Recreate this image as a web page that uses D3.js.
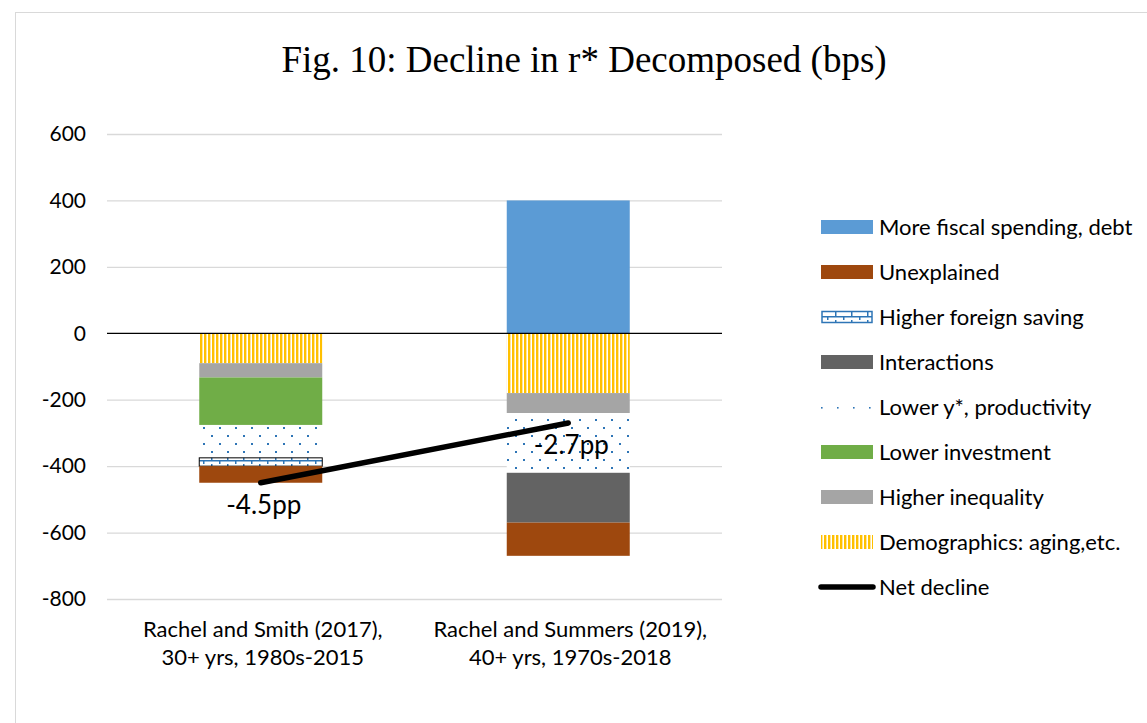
<!DOCTYPE html>
<html><head><meta charset="utf-8">
<script src="https://cdn.jsdelivr.net/npm/d3@7"></script>
<style>body{margin:0;background:#fff}</style>
</head><body>
<svg id="c" width="1147" height="723"></svg>
<script>
const categories = [["Rachel and Smith (2017),", "30+ yrs, 1980s-2015"], ["Rachel and Summers (2019),", "40+ yrs, 1970s-2018"]];
const seriesNames = ["Demographics: aging,etc.", "Higher inequality", "Lower investment", "Lower y*, productivity", "Interactions", "Higher foreign saving", "Unexplained", "More fiscal spending, debt"];
const demographics = [-90, -180];
const inequality = [-43, -60];
const investment = [-143, 0];
const lowerY = [-99, -180];
const interactions = [0, -150];
const foreignSaving = [-25, 0];
const unexplained = [-50, -100];
const fiscal = [0, 400];
const netDecline = [-450, -270];
const netLabels = ["-4.5pp", "-2.7pp"];
const yTicks = [600, 400, 200, 0, -200, -400, -600, -800];

const seriesValues = [demographics, inequality, investment, lowerY, interactions, foreignSaving, unexplained, fiscal];
const fills = ["url(#stripes)", "#A5A5A5", "#70AD47", "url(#dots)", "#636363", "url(#bricks)", "#9E480E", "#5B9BD5"];

const svg = d3.select("#c");
const font = "Lato, 'Open Sans', sans-serif";

// defs
const defs = svg.append("defs");
const ps = defs.append("pattern").attr("id","stripes").attr("patternUnits","userSpaceOnUse").attr("width",4).attr("height",4);
ps.append("rect").attr("width",4).attr("height",4).attr("fill","#fff");
ps.append("rect").attr("width",2.4).attr("height",4).attr("fill","#FFC000");
const pd = defs.append("pattern").attr("id","dots").attr("patternUnits","userSpaceOnUse").attr("width",16).attr("height",16);
pd.append("rect").attr("width",16).attr("height",16).attr("fill","#fff");
pd.append("rect").attr("x",3).attr("y",3).attr("width",2).attr("height",2).attr("fill","#2E75B6");
pd.append("rect").attr("x",11).attr("y",11).attr("width",2).attr("height",2).attr("fill","#2E75B6");
const pb = defs.append("pattern").attr("id","bricks").attr("patternUnits","userSpaceOnUse").attr("width",16).attr("height",8);
pb.append("rect").attr("width",16).attr("height",8).attr("fill","#fff");
pb.append("rect").attr("x",0).attr("y",4).attr("width",16).attr("height",1.5).attr("fill","#2E75B6");
pb.append("rect").attr("x",3).attr("y",0).attr("width",1.5).attr("height",4).attr("fill","#2E75B6");
pb.append("rect").attr("x",11).attr("y",4).attr("width",1.5).attr("height",4).attr("fill","#2E75B6");

// outer border
svg.append("rect").attr("x",15.5).attr("y",12.5).attr("width",1140).attr("height",720).attr("fill","#fff").attr("stroke","#d9d9d9");

svg.append("text").attr("x",584).attr("y",72).attr("text-anchor","middle")
  .attr("font-family","'Liberation Serif', 'Times New Roman', serif").attr("font-size",37).text("Fig. 10: Decline in r* Decomposed (bps)");

const x = d3.scaleBand().domain(d3.range(categories.length)).range([107, 722]).paddingInner(0.6).paddingOuter(0.3);
const y = d3.scaleLinear().domain([-800, 600]).range([599, 134]);

// grid
const yAxis = svg.append("g").attr("transform","translate(107,0)")
  .call(d3.axisLeft(y).tickValues(yTicks).tickSize(-615).tickPadding(21).tickFormat(d => String(d)));
yAxis.select(".domain").remove();
yAxis.selectAll(".tick line").attr("stroke", d => d === 0 ? "none" : "#d9d9d9").attr("stroke-width",1.3);
yAxis.selectAll(".tick text").attr("font-family",font).attr("font-size",21).attr("fill","#000");

// stacked data
const rows = categories.map((c,i) => { const o = {}; seriesNames.forEach((s,k)=> o[s] = seriesValues[k][i]); return o; });
const stack = d3.stack().keys(seriesNames).offset(d3.stackOffsetDiverging)(rows);
stack.forEach((layer,k) => {
  svg.append("g").selectAll("rect").data(layer).join("rect")
    .attr("x",(d,i)=>x(i)).attr("width",x.bandwidth())
    .attr("y",d=>y(Math.max(d[0],d[1]))).attr("height",d=>Math.abs(y(d[0])-y(d[1])))
    .attr("fill",fills[k])
    .attr("stroke", seriesNames[k]==="Higher foreign saving" ? "#000" : "none")
    .attr("stroke-width",1);
});

// zero line
svg.append("line").attr("x1",107).attr("x2",722).attr("y1",y(0)).attr("y2",y(0)).attr("stroke","#000").attr("stroke-width",1.3);

// net decline line
const cx = i => x(i) + x.bandwidth()/2;
svg.append("path").datum(netDecline)
  .attr("d", d3.line().x((d,i)=>cx(i)).y(d=>y(d)))
  .attr("fill","none").attr("stroke","#000").attr("stroke-width",5.5).attr("stroke-linecap","round");
svg.append("g").selectAll("text").data(netDecline).join("text")
  .attr("x",(d,i)=>cx(i)+3).attr("y",d=>y(d)+31).attr("text-anchor","middle")
  .attr("font-family",font).attr("font-size",26).attr("fill","#000").text((d,i)=>netLabels[i]);

// x labels
const xl = svg.append("g").selectAll("text").data(categories).join("text")
  .attr("x",(d,i)=>cx(i)+2).attr("y",637).attr("text-anchor","middle")
  .attr("font-family",font).attr("font-size",22).attr("fill","#000");
xl.append("tspan").attr("x",(d,i)=>cx(i)+2).attr("dy",0).text(d=>d[0]);
xl.append("tspan").attr("x",(d,i)=>cx(i)+2).attr("dy",28).text(d=>d[1]);

// legend
const legendOrder = seriesNames.slice().reverse();
const lg = svg.append("g");
const ly0 = 227, ldy = 45;
legendOrder.forEach((name,j) => {
  const k = seriesNames.indexOf(name);
  const yy = ly0 + j*ldy;
  if (name === "Lower y*, productivity") {
    [0,16,32,48].forEach(dx => lg.append("rect").attr("x",821+dx).attr("y",yy).attr("width",1.6).attr("height",1.6).attr("fill","#2E75B6"));
  } else if (name === "Higher foreign saving") {
    lg.append("rect").attr("x",822).attr("y",yy-5.5).attr("width",50).attr("height",11).attr("fill","url(#bricks)").attr("stroke","#2E75B6").attr("stroke-width",1.5);
  } else {
    lg.append("rect").attr("x",821).attr("y",yy-7).attr("width",52).attr("height",14).attr("fill",fills[k]);
  }
  lg.append("text").attr("x",879).attr("y",yy+7.5).attr("font-family",font).attr("font-size",22).attr("fill","#000").text(name);
});
const ny = ly0 + legendOrder.length*ldy;
lg.append("line").attr("x1",821).attr("x2",873).attr("y1",ny).attr("y2",ny).attr("stroke","#000").attr("stroke-width",5.5).attr("stroke-linecap","round");
lg.append("text").attr("x",879).attr("y",ny+7.5).attr("font-family",font).attr("font-size",22).attr("fill","#000").text("Net decline");
</script>
</body></html>
